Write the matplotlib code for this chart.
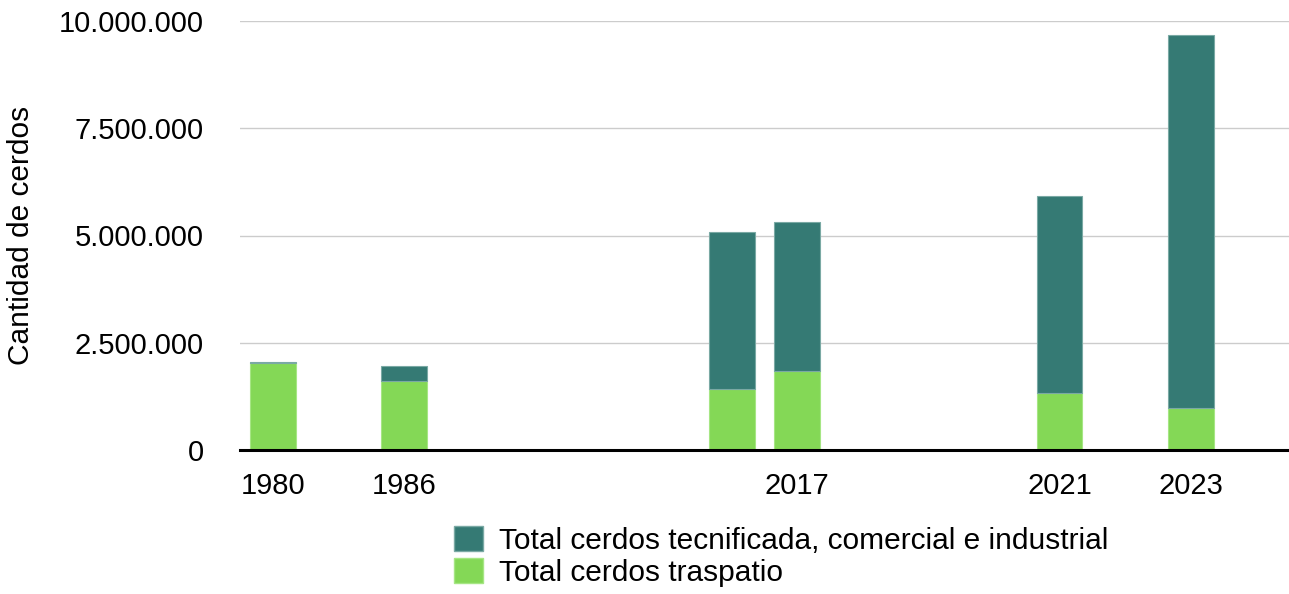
import numpy as np
import matplotlib
matplotlib.use('Agg')
import matplotlib.pyplot as plt
from matplotlib.patches import Patch
from matplotlib.ticker import FuncFormatter

plt.rcParams['font.family'] = ['Liberation Sans', 'DejaVu Sans']

# category slots on the x axis (empty slots between years)
slots = [0, 2, 7, 8, 12, 14]
year_labels = ['1980', '1986', '', '2017', '2021', '2023']
traspatio = [2020000, 1610000, 1430000, 1850000, 1330000, 990000]
tecnificada = [40000, 340000, 3640000, 3460000, 4600000, 8680000]

c_tec = '#357a74'
c_tras = '#84d856'

fig = plt.figure(figsize=(12.89, 5.94), dpi=100)
ax = fig.add_axes([240 / 1289, 144 / 594, 1049 / 1289, 429 / 594])

x = np.array(slots)
ax.bar(x, traspatio, width=0.7, color=c_tras, edgecolor='#a6e684', linewidth=0.8, zorder=3)
ax.bar(x, tecnificada, width=0.7, bottom=traspatio, color=c_tec,
       edgecolor='#7aa9a4', linewidth=0.8, zorder=3)

ax.set_xlim(-0.5, 15.5)
ax.set_ylim(0, 10000000)
ax.set_yticks([0, 2500000, 5000000, 7500000, 10000000])
ax.yaxis.set_major_formatter(FuncFormatter(lambda v, p: f"{int(v):,}".replace(',', '.')))
ax.set_xticks(x)
ax.set_xticklabels(year_labels)
ax.tick_params(axis='both', length=0, labelsize=21)
ax.tick_params(axis='y', pad=26)
ax.tick_params(axis='x', pad=15.5)

ax.grid(axis='y', color='#cccccc', linewidth=1.0, zorder=0)
for s in ['top', 'right', 'left']:
    ax.spines[s].set_visible(False)
ax.spines['bottom'].set_linewidth(2.2)
ax.spines['bottom'].set_color('black')
ax.spines['bottom'].set_zorder(4)

ax.set_ylabel('Cantidad de cerdos', fontsize=21.5)
ax.yaxis.set_label_coords(-205 / 1049, 0.5)

handles = [Patch(facecolor=c_tec, edgecolor='#7aa9a4'),
           Patch(facecolor=c_tras, edgecolor='#a6e684')]
fig.legend(handles, ['Total cerdos tecnificada, comercial e industrial', 'Total cerdos traspatio'],
           loc='upper left', bbox_to_anchor=(454 / 1289, 1 - 526 / 594),
           frameon=False, fontsize=21.5, handlelength=0.97, handleheight=0.92,
           handletextpad=0.55, labelspacing=0.1, borderpad=0, borderaxespad=0)

fig.savefig('out.png', dpi=100)
